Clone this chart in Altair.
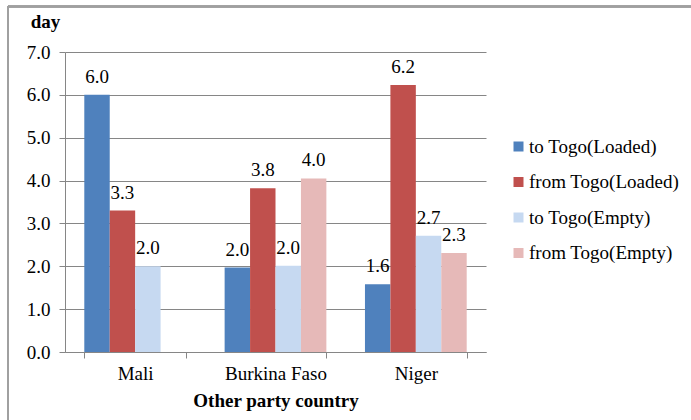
import altair as alt
import pandas as pd

countries = ["Mali", "Burkina Faso", "Niger"]
series = ["to Togo(Loaded)", "from Togo(Loaded)", "to Togo(Empty)", "from Togo(Empty)"]
colors = ["#4F81BD", "#C0504D", "#C6D9F1", "#E6B9B8"]
to_loaded = [6.0, 1.97, 1.58]
from_loaded = [3.3, 3.82, 6.23]
to_empty = [2.0, 2.01, 2.71]
from_empty = [None, 4.05, 2.31]

rows = []
for i, c in enumerate(countries):
    for s, vals in zip(series, [to_loaded, from_loaded, to_empty, from_empty]):
        if vals[i] is not None:
            rows.append({"country": c, "series": s, "value": vals[i]})
df = pd.DataFrame(rows)

FONT = "Liberation Serif"
FS = 19
GRAY = "#868686"

x = alt.X("country:N", sort=countries,
          scale=alt.Scale(paddingInner=0.275, paddingOuter=0.1375),
          axis=alt.Axis(title="Other party country", labelAngle=0, tickBand="extent",
                        domainColor=GRAY, tickColor=GRAY, tickSize=6,
                        labelPadding=6, titlePadding=8, grid=False,
                        labelFont=FONT, labelFontSize=FS, labelColor="black",
                        titleFont=FONT, titleFontSize=FS, titleFontWeight="bold", titleColor="black"))
xo = alt.XOffset("series:N", sort=series, scale=alt.Scale(domain=series, paddingInner=0, paddingOuter=0))
y = alt.Y("value:Q", scale=alt.Scale(domain=[0, 7]),
          axis=alt.Axis(title="day", values=[0, 1, 2, 3, 4, 5, 6, 7], format=".1f",
                        domainColor=GRAY, tickColor=GRAY, tickSize=6, labelPadding=9,
                        gridColor=GRAY, titleAngle=0, titleX=-20, titleY=-25,
                        titleAlign="center", titleBaseline="alphabetic",
                        labelFont=FONT, labelFontSize=FS, labelColor="black",
                        titleFont=FONT, titleFontSize=FS, titleFontWeight="bold", titleColor="black"))

bars = alt.Chart(df).mark_bar().encode(
    x=x, xOffset=xo, y=y,
    color=alt.Color("series:N", sort=series, scale=alt.Scale(domain=series, range=colors),
                    legend=alt.Legend(title=None, orient="none", legendX=444, legendY=85,
                                      symbolType="square", symbolSize=100, symbolStrokeWidth=0,
                                      rowPadding=15.5, labelOffset=1, padding=0,
                                      labelFontSize=FS, labelFont=FONT, labelColor="black")),
)
labels = alt.Chart(df).mark_text(dy=-12, baseline="alphabetic", font=FONT, fontSize=FS, color="black").encode(
    x=x, xOffset=xo, y=y, text=alt.Text("value:Q", format=".1f"))

frame_top = alt.Chart(df).mark_rule(color="#A0A0A0", strokeWidth=1.5, clip=False).encode(
    x=alt.value(-57), x2=alt.value(640), y=alt.value(-45.5))
frame_left = alt.Chart(df).mark_rule(color="#A0A0A0", strokeWidth=1.5, clip=False).encode(
    x=alt.value(-57), y=alt.value(-45.5), y2=alt.value(370))

chart = alt.layer(bars, labels, frame_top, frame_left).properties(
    width=421, height=300,
    background="white",
    autosize=alt.AutoSizeParams(type="none"),
    padding={"left": 65, "top": 52, "right": 205, "bottom": 68},
).configure_view(stroke=None)

chart.save("out.html", embed_options={"renderer": "svg", "actions": False})
